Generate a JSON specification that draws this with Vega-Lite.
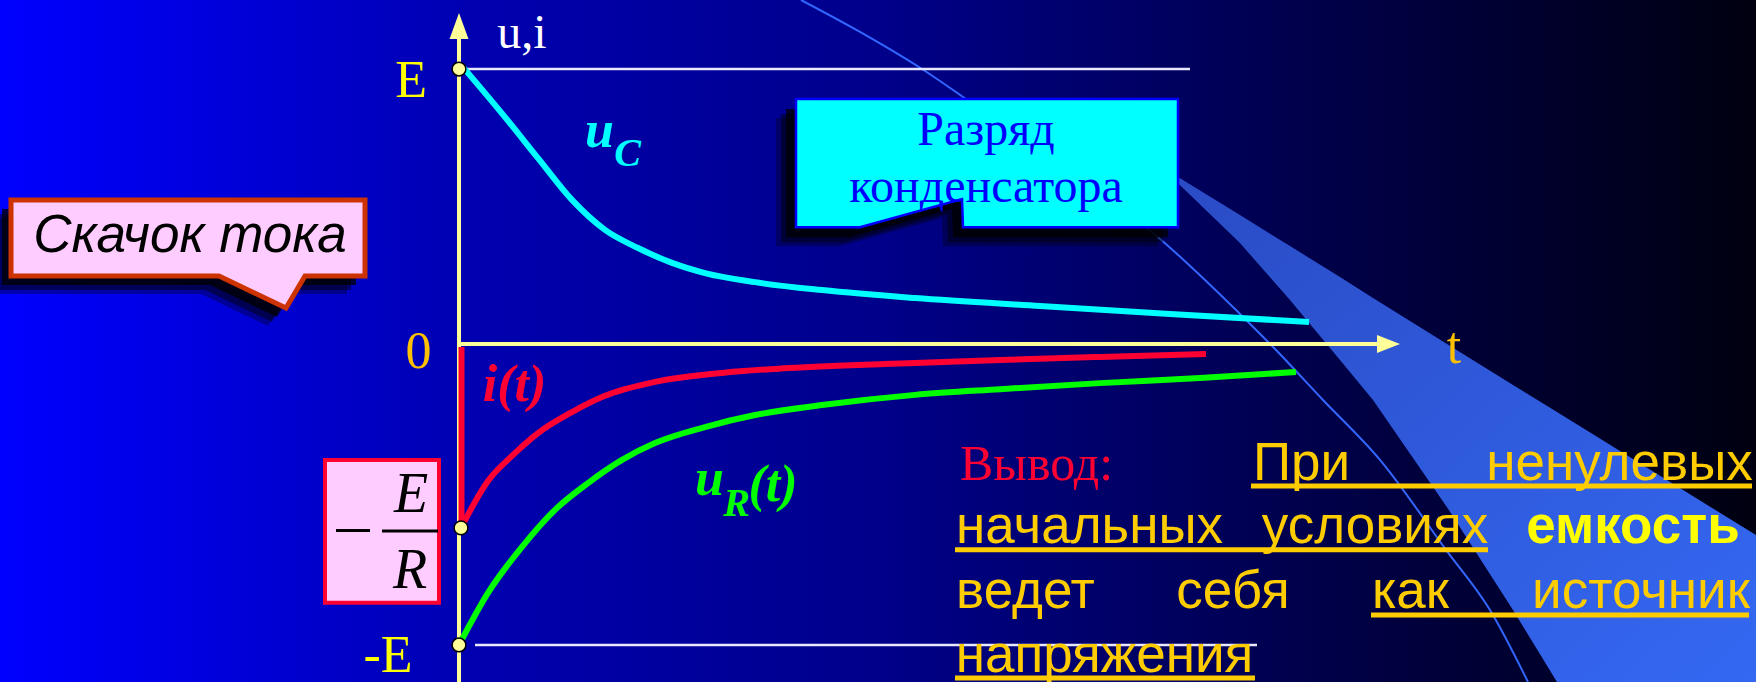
{
  "$schema": "https://vega.github.io/schema/vega-lite/v6.json",
  "width": 1756,
  "height": 682,
  "padding": 0,
  "autosize": {"type": "none"},
  "background": "#00008A",
  "config": {"view": {"stroke": null}},
  "datasets": {
    "bg": [{"t": -4.59, "t2": 12.97, "u": 1.251, "u2": -1.123}],
    "beam": [
      {"t": 7.10, "u": 0.63, "u2": 0.60},
      {"t": 7.19, "u": 0.607, "u2": 0.585},
      {"t": 7.81, "u": 0.469, "u2": 0.367},
      {"t": 8.31, "u": 0.356, "u2": 0.160},
      {"t": 8.81, "u": 0.244, "u2": -0.053},
      {"t": 9.14, "u": 0.167, "u2": -0.186},
      {"t": 9.88, "u": 0.0, "u2": -0.542},
      {"t": 10.54, "u": -0.136, "u2": -0.884},
      {"t": 10.98, "u": -0.226, "u2": -1.123},
      {"t": 12.97, "u": -0.635, "u2": -1.123}
    ],
    "arc": [
      {"t": 3.42, "u": 1.251},
      {"t": 4.01, "u": 1.135},
      {"t": 4.63, "u": 1.0},
      {"t": 5.07, "u": 0.891},
      {"t": 6.01, "u": 0.647},
      {"t": 6.94, "u": 0.404},
      {"t": 7.80, "u": 0.113},
      {"t": 8.17, "u": -0.020},
      {"t": 8.64, "u": -0.186},
      {"t": 9.21, "u": -0.385},
      {"t": 9.87, "u": -0.684},
      {"t": 10.31, "u": -0.884},
      {"t": 10.69, "u": -1.123}
    ],
    "levels": [
      {"t": 0.07, "t2": 7.31, "u": 1, "u2": 1},
      {"t": 0.16, "t2": 7.98, "u": -1, "u2": -1}
    ],
    "axes": [
      {"t": 0, "t2": 0, "u": -1.123, "u2": 1.11},
      {"t": 0, "t2": 9.2, "u": 0, "u2": 0}
    ],
    "arrowY": [{"t": 0, "u": 1.204}],
    "arrowT": [{"t": 9.41, "u": 0}],
    "jump": [{"t": 0.025, "u": -0.010, "u2": -0.611}],
    "curves": [
      {"s": "uC", "t": 0.03, "u": 1.011},
      {"s": "uC", "t": 0.46, "u": 0.825},
      {"s": "uC", "t": 0.79, "u": 0.676},
      {"s": "uC", "t": 1.13, "u": 0.524},
      {"s": "uC", "t": 1.46, "u": 0.415},
      {"s": "uC", "t": 1.79, "u": 0.349},
      {"s": "uC", "t": 2.13, "u": 0.295},
      {"s": "uC", "t": 2.46, "u": 0.258},
      {"s": "uC", "t": 2.96, "u": 0.225},
      {"s": "uC", "t": 3.63, "u": 0.196},
      {"s": "uC", "t": 4.56, "u": 0.167},
      {"s": "uC", "t": 5.81, "u": 0.138},
      {"s": "uC", "t": 7.11, "u": 0.109},
      {"s": "uC", "t": 8.50, "u": 0.080},
      {"s": "i", "t": 0.02, "u": -0.611},
      {"s": "i", "t": 0.29, "u": -0.455},
      {"s": "i", "t": 0.53, "u": -0.372},
      {"s": "i", "t": 0.79, "u": -0.296},
      {"s": "i", "t": 1.13, "u": -0.226},
      {"s": "i", "t": 1.46, "u": -0.172},
      {"s": "i", "t": 1.96, "u": -0.126},
      {"s": "i", "t": 2.63, "u": -0.096},
      {"s": "i", "t": 3.29, "u": -0.080},
      {"s": "i", "t": 4.56, "u": -0.063},
      {"s": "i", "t": 5.41, "u": -0.053},
      {"s": "i", "t": 6.41, "u": -0.043},
      {"s": "i", "t": 7.47, "u": -0.033},
      {"s": "uR", "t": 0, "u": -1},
      {"s": "uR", "t": 0.29, "u": -0.827},
      {"s": "uR", "t": 0.63, "u": -0.674},
      {"s": "uR", "t": 0.96, "u": -0.551},
      {"s": "uR", "t": 1.29, "u": -0.462},
      {"s": "uR", "t": 1.63, "u": -0.385},
      {"s": "uR", "t": 1.96, "u": -0.329},
      {"s": "uR", "t": 2.46, "u": -0.276},
      {"s": "uR", "t": 2.96, "u": -0.236},
      {"s": "uR", "t": 3.63, "u": -0.203},
      {"s": "uR", "t": 4.56, "u": -0.169},
      {"s": "uR", "t": 5.41, "u": -0.150},
      {"s": "uR", "t": 6.41, "u": -0.130},
      {"s": "uR", "t": 7.41, "u": -0.113},
      {"s": "uR", "t": 8.37, "u": -0.093}
    ],
    "dots": [
      {"t": 0, "u": 1},
      {"t": 0.02, "u": -0.611},
      {"t": 0, "u": -1}
    ],
    "axisLabelsY": [
      {"t": -0.48, "u": 0.898, "label": "E"},
      {"t": -0.71, "u": -1.090, "label": "-E"}
    ],
    "axisLabelsO": [
      {"t": -0.405, "u": -0.080, "label": "0"},
      {"t": 9.95, "u": -0.063, "label": "t"}
    ],
    "axisTitle": [{"t": 0.63, "u": 1.076, "label": "u,i"}],
    "curveLabels": [
      {"t": 1.405, "u": 0.717, "label": "u", "s": "uC"},
      {"t": 0.555, "u": -0.189, "label": "i(t)", "s": "i"},
      {"t": 2.505, "u": -0.502, "label": "u", "s": "uR"},
      {"t": 3.14, "u": -0.522, "label": "(t)", "s": "uR"}
    ],
    "curveSubs": [
      {"t": 1.685, "u": 0.647, "label": "C", "s": "uC"},
      {"t": 2.775, "u": -0.571, "label": "R", "s": "uR"}
    ],
    "callout1": [
      {"t": -4.48, "u": 0.524, "u2": 0.247},
      {"t": -2.40, "u": 0.524, "u2": 0.247},
      {"t": -1.73, "u": 0.524, "u2": 0.131},
      {"t": -1.54, "u": 0.524, "u2": 0.247},
      {"t": -0.94, "u": 0.524, "u2": 0.247}
    ],
    "callout1Text": [{"t": -2.69, "u": 0.335, "label": "Скачок тока"}],
    "fracBox": [{"t": -1.34, "t2": -0.20, "u": -0.385, "u2": -0.860}],
    "fracRules": [
      {"t": -1.23, "t2": -0.89, "u": -0.620, "u2": -0.620},
      {"t": -0.77, "t2": -0.21, "u": -0.621, "u2": -0.621}
    ],
    "fracText": [
      {"t": -0.48, "u": -0.558, "label": "E"},
      {"t": -0.49, "u": -0.811, "label": "R"}
    ],
    "callout2": [
      {"t": 3.37, "u": 0.891, "u2": 0.425},
      {"t": 4.01, "u": 0.891, "u2": 0.425},
      {"t": 5.03, "u": 0.891, "u2": 0.527},
      {"t": 5.04, "u": 0.891, "u2": 0.425},
      {"t": 7.19, "u": 0.891, "u2": 0.425}
    ],
    "callout2Text": [
      {"t": 5.27, "u": 0.724, "label": "Разряд"},
      {"t": 5.27, "u": 0.516, "label": "конденсатора"}
    ],
    "conclHead": [{"t": 5.775, "u": -0.452, "label": "Вывод:"}],
    "conclWords": [
      {"t": 8.425, "u": -0.452, "label": "При"},
      {"t": 11.605, "u": -0.452, "label": "ненулевых"},
      {"t": 6.305, "u": -0.661, "label": "начальных"},
      {"t": 9.16, "u": -0.661, "label": "условиях"},
      {"t": 5.665, "u": -0.877, "label": "ведет"},
      {"t": 7.74, "u": -0.877, "label": "себя"},
      {"t": 9.515, "u": -0.877, "label": "как"},
      {"t": 11.82, "u": -0.877, "label": "источник"},
      {"t": 6.455, "u": -1.090, "label": "напряжения"}
    ],
    "conclBold": [{"t": 11.74, "u": -0.661, "label": "емкость"}],
    "underlines": [
      {"t": 7.92, "t2": 12.93, "u": -0.472, "u2": -0.472},
      {"t": 4.96, "t2": 10.29, "u": -0.684, "u2": -0.684},
      {"t": 9.12, "t2": 12.90, "u": -0.900, "u2": -0.900},
      {"t": 4.96, "t2": 7.96, "u": -1.110, "u2": -1.110}
    ]
  },
  "encoding": {
    "x": {"field": "t", "type": "quantitative", "axis": null,
          "scale": {"domain": [-4.59, 12.97], "zero": false, "nice": false}},
    "y": {"field": "u", "type": "quantitative", "axis": null,
          "scale": {"domain": [-1.123, 0, 1.251], "range": [682, 344, 0], "zero": false, "nice": false}}
  },
  "layer": [
    {
      "data": {"name": "bg"},
      "mark": {"type": "rect", "color": {"gradient": "linear", "x1": 0, "y1": 0, "x2": 1, "y2": 0,
        "stops": [
          {"offset": 0, "color": "#0000FF"},
          {"offset": 0.12, "color": "#0000DD"},
          {"offset": 0.27, "color": "#0000B0"},
          {"offset": 0.5, "color": "#00008A"},
          {"offset": 0.75, "color": "#00004A"},
          {"offset": 1, "color": "#000010"}
        ]}},
      "encoding": {"x2": {"field": "t2"}, "y2": {"field": "u2"}}
    },
    {
      "data": {"name": "beam"},
      "mark": {"type": "area", "orient": "vertical", "clip": true, "interpolate": "linear",
        "color": {"gradient": "linear", "x1": 0, "y1": 0, "x2": 1, "y2": 1,
          "stops": [{"offset": 0, "color": "#2A4BC4"}, {"offset": 1, "color": "#3468F2"}]}},
      "encoding": {"y2": {"field": "u2"}}
    },
    {
      "data": {"name": "arc"},
      "mark": {"type": "line", "color": "#3366FF", "strokeWidth": 2, "interpolate": "monotone", "clip": true},
      "encoding": {}
    },
    {
      "data": {"name": "levels"},
      "mark": {"type": "rule", "color": "#E8E8FF", "strokeWidth": 2.5},
      "encoding": {"x2": {"field": "t2"}, "y2": {"field": "u2"}}
    },
    {
      "data": {"name": "axes"},
      "mark": {"type": "rule", "color": "#FFFF99", "strokeWidth": 4},
      "encoding": {"x2": {"field": "t2"}, "y2": {"field": "u2"}}
    },
    {
      "data": {"name": "arrowY"},
      "mark": {"type": "point", "shape": "M0,0L0.73,2L-0.73,2Z", "size": 676, "filled": true, "color": "#FFFF99", "opacity": 1, "strokeWidth": 0}
    },
    {
      "data": {"name": "arrowT"},
      "mark": {"type": "point", "shape": "M0,0L-2,-0.78L-2,0.78Z", "size": 529, "filled": true, "color": "#FFFF99", "opacity": 1, "strokeWidth": 0}
    },
    {
      "data": {"name": "jump"},
      "mark": {"type": "rule", "color": "#FF0033", "strokeWidth": 6},
      "encoding": {"y2": {"field": "u2"}}
    },
    {
      "data": {"name": "curves"},
      "mark": {"type": "line", "strokeWidth": 6, "interpolate": "monotone", "strokeJoin": "round", "strokeCap": "butt"},
      "encoding": {
        "detail": {"field": "s"},
        "color": {"field": "s", "type": "nominal", "legend": null,
                  "scale": {"domain": ["uC", "i", "uR"], "range": ["#00FFFF", "#FF0033", "#00FF00"]}}
      }
    },
    {
      "data": {"name": "dots"},
      "mark": {"type": "point", "shape": "circle", "size": 190, "filled": true, "fill": "#FFFF99", "stroke": "#000000", "strokeWidth": 1.5, "opacity": 1}
    },
    {
      "data": {"name": "axisLabelsY"},
      "mark": {"type": "text", "font": "Liberation Serif", "fontSize": 52, "color": "#FFFF00", "align": "center", "baseline": "alphabetic"},
      "encoding": {"text": {"field": "label"}}
    },
    {
      "data": {"name": "axisLabelsO"},
      "mark": {"type": "text", "font": "Liberation Serif", "fontSize": 52, "color": "#FFC000", "align": "center", "baseline": "alphabetic"},
      "encoding": {"text": {"field": "label"}}
    },
    {
      "data": {"name": "axisTitle"},
      "mark": {"type": "text", "font": "Liberation Serif", "fontSize": 48, "color": "#FFFFFF", "align": "center", "baseline": "alphabetic"},
      "encoding": {"text": {"field": "label"}}
    },
    {
      "data": {"name": "curveLabels"},
      "mark": {"type": "text", "font": "Liberation Serif", "fontSize": 52, "fontStyle": "italic", "fontWeight": "bold", "align": "center", "baseline": "alphabetic"},
      "encoding": {"text": {"field": "label"},
        "color": {"field": "s", "type": "nominal", "legend": null,
                  "scale": {"domain": ["uC", "i", "uR"], "range": ["#00FFFF", "#FF0033", "#00FF00"]}}}
    },
    {
      "data": {"name": "curveSubs"},
      "mark": {"type": "text", "font": "Liberation Serif", "fontSize": 40, "fontStyle": "italic", "fontWeight": "bold", "align": "center", "baseline": "alphabetic"},
      "encoding": {"text": {"field": "label"},
        "color": {"field": "s", "type": "nominal", "legend": null,
                  "scale": {"domain": ["uC", "i", "uR"], "range": ["#00FFFF", "#FF0033", "#00FF00"]}}}
    },
    {
      "data": {"name": "callout1"},
      "mark": {"type": "area", "orient": "vertical", "color": "#000000", "opacity": 0.3, "xOffset": -18, "yOffset": 18, "y2Offset": 18},
      "encoding": {"y2": {"field": "u2"}}
    },
    {
      "data": {"name": "callout1"},
      "mark": {"type": "area", "orient": "vertical", "color": "#000000", "opacity": 0.45, "xOffset": -14, "yOffset": 14, "y2Offset": 14},
      "encoding": {"y2": {"field": "u2"}}
    },
    {
      "data": {"name": "callout1"},
      "mark": {"type": "area", "orient": "vertical", "color": "#000000", "opacity": 0.75, "xOffset": -9, "yOffset": 9, "y2Offset": 9},
      "encoding": {"y2": {"field": "u2"}}
    },
    {
      "data": {"name": "callout1"},
      "mark": {"type": "area", "orient": "vertical", "fill": "#FFCCFF", "stroke": "#CC3300", "strokeWidth": 5, "opacity": 1, "strokeJoin": "miter"},
      "encoding": {"y2": {"field": "u2"}}
    },
    {
      "data": {"name": "callout1Text"},
      "mark": {"type": "text", "font": "Liberation Sans", "fontSize": 53, "fontStyle": "italic", "color": "#000000", "align": "center", "baseline": "alphabetic"},
      "encoding": {"text": {"field": "label"}}
    },
    {
      "data": {"name": "fracBox"},
      "mark": {"type": "rect", "fill": "#FFCCFF", "stroke": "#FF0033", "strokeWidth": 4},
      "encoding": {"x2": {"field": "t2"}, "y2": {"field": "u2"}}
    },
    {
      "data": {"name": "fracRules"},
      "mark": {"type": "rule", "color": "#000000", "strokeWidth": 3},
      "encoding": {"x2": {"field": "t2"}, "y2": {"field": "u2"}}
    },
    {
      "data": {"name": "fracText"},
      "mark": {"type": "text", "font": "Liberation Serif", "fontSize": 56, "fontStyle": "italic", "color": "#000000", "align": "center", "baseline": "alphabetic"},
      "encoding": {"text": {"field": "label"}}
    },
    {
      "data": {"name": "callout2"},
      "mark": {"type": "area", "orient": "vertical", "color": "#000000", "opacity": 0.3, "xOffset": -20, "yOffset": 19, "y2Offset": 19},
      "encoding": {"y2": {"field": "u2"}}
    },
    {
      "data": {"name": "callout2"},
      "mark": {"type": "area", "orient": "vertical", "color": "#000000", "opacity": 0.45, "xOffset": -15, "yOffset": 15, "y2Offset": 15},
      "encoding": {"y2": {"field": "u2"}}
    },
    {
      "data": {"name": "callout2"},
      "mark": {"type": "area", "orient": "vertical", "color": "#000000", "opacity": 0.75, "xOffset": -10, "yOffset": 10, "y2Offset": 10},
      "encoding": {"y2": {"field": "u2"}}
    },
    {
      "data": {"name": "callout2"},
      "mark": {"type": "area", "orient": "vertical", "fill": "#00FFFF", "stroke": "#0000FF", "strokeWidth": 2.5, "opacity": 1},
      "encoding": {"y2": {"field": "u2"}}
    },
    {
      "data": {"name": "callout2Text"},
      "mark": {"type": "text", "font": "Liberation Serif", "fontSize": 48, "color": "#0000FF", "align": "center", "baseline": "alphabetic"},
      "encoding": {"text": {"field": "label"}}
    },
    {
      "data": {"name": "underlines"},
      "mark": {"type": "rule", "color": "#FFCC00", "strokeWidth": 5},
      "encoding": {"x2": {"field": "t2"}, "y2": {"field": "u2"}}
    },
    {
      "data": {"name": "conclHead"},
      "mark": {"type": "text", "font": "Liberation Serif", "fontSize": 50, "color": "#FF0033", "align": "center", "baseline": "alphabetic"},
      "encoding": {"text": {"field": "label"}}
    },
    {
      "data": {"name": "conclWords"},
      "mark": {"type": "text", "font": "Liberation Sans", "fontSize": 53, "color": "#FFCC00", "align": "center", "baseline": "alphabetic"},
      "encoding": {"text": {"field": "label"}}
    },
    {
      "data": {"name": "conclBold"},
      "mark": {"type": "text", "font": "Liberation Sans", "fontSize": 53, "fontWeight": "bold", "color": "#FFFF00", "align": "center", "baseline": "alphabetic"},
      "encoding": {"text": {"field": "label"}}
    }
  ]
}
